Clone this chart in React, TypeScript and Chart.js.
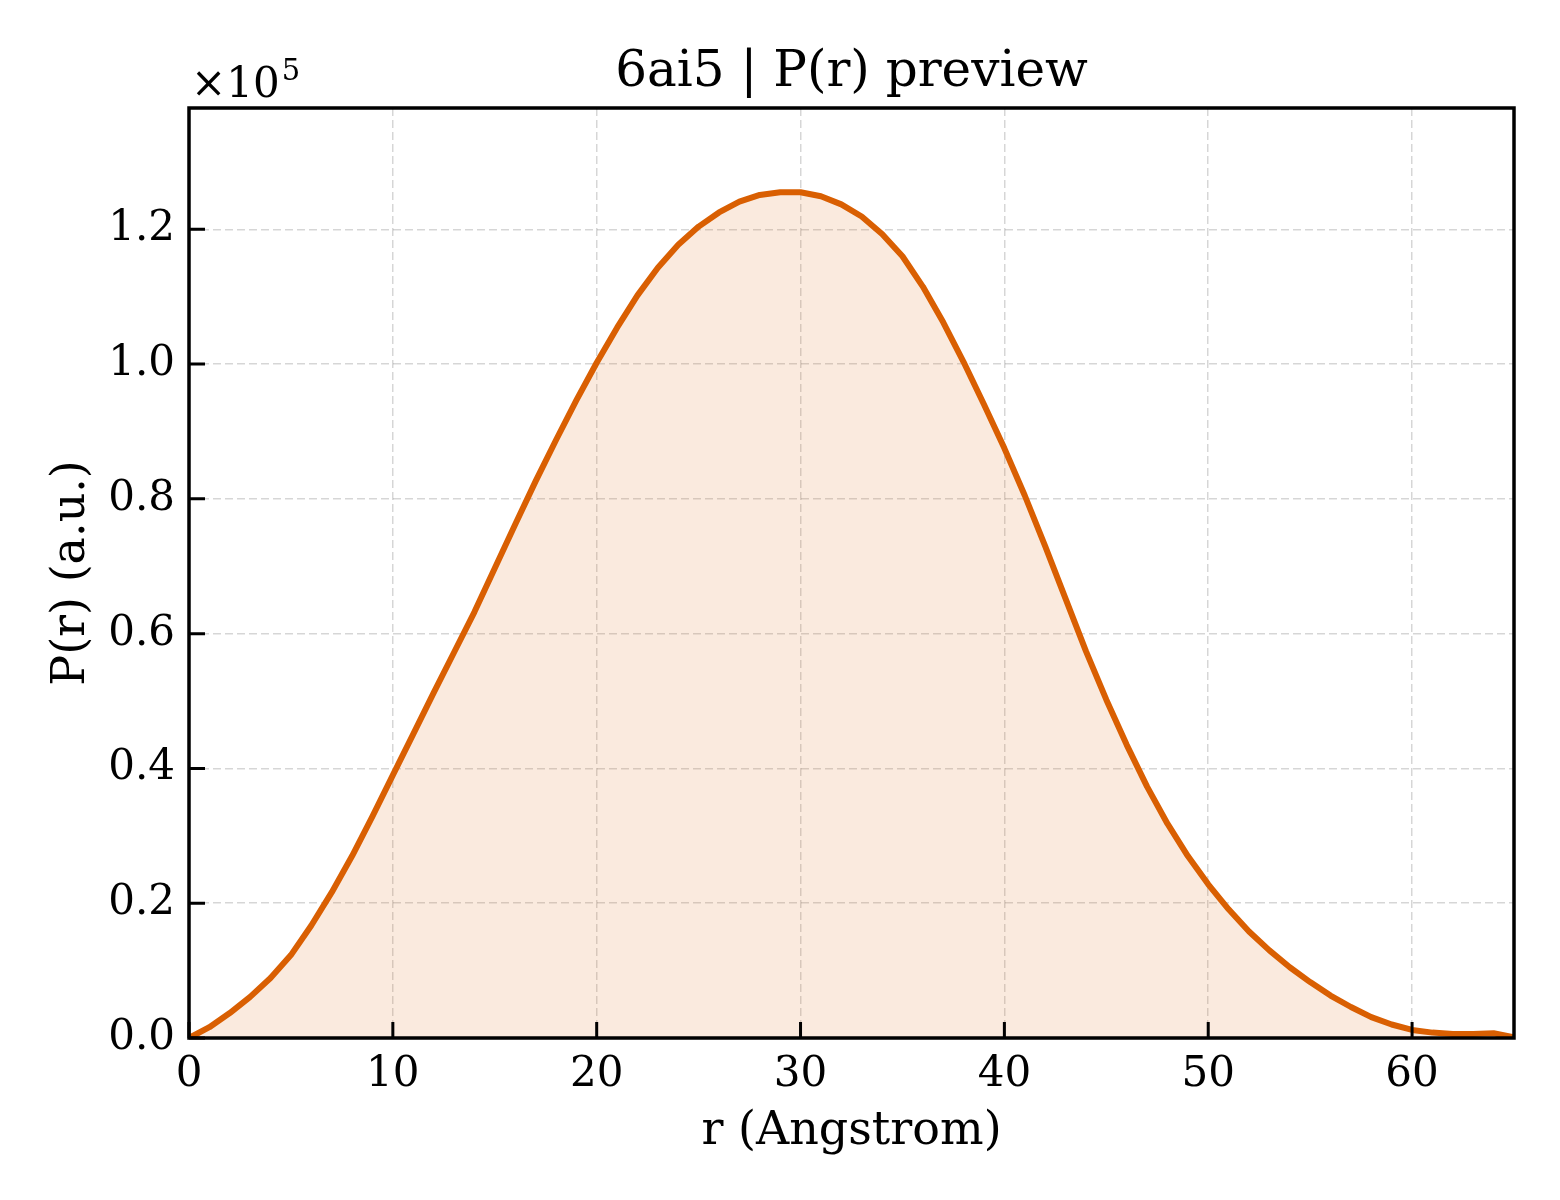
import { useEffect, useRef } from 'react';
import { Chart, registerables } from 'chart.js';

Chart.register(...registerables);

// r in Angstrom, P(r) in arbitrary units
const rValues = [
  0, 1, 2, 3, 4, 5, 6, 7, 8, 9, 10, 11, 12, 13, 14, 15, 16, 17, 18, 19, 20, 21,
  22, 23, 24, 25, 26, 27, 28, 29, 30, 31, 32, 33, 34, 35, 36, 37, 38, 39, 40,
  41, 42, 43, 44, 45, 46, 47, 48, 49, 50, 51, 52, 53, 54, 55, 56, 57, 58, 59,
  60, 61, 62, 63, 64, 65,
];

const prValues = [
  0, 1600, 3700, 6100, 8900, 12300, 16700, 21600, 27000, 32900, 39000, 45100,
  51200, 57200, 63200, 69700, 76200, 82600, 88700, 94600, 100200, 105400,
  110200, 114300, 117700, 120400, 122500, 124100, 125100, 125500, 125500,
  124900, 123700, 121900, 119300, 116000, 111500, 106200, 100300, 94000, 87500,
  80500, 73000, 65200, 57400, 50200, 43500, 37300, 31800, 27000, 22800, 19100,
  15800, 13000, 10500, 8300, 6300, 4600, 3100, 2000, 1200, 800, 600, 600, 700,
  100,
];

const xTickValues = [0, 10, 20, 30, 40, 50, 60];
const yTickValues = [0, 20000, 40000, 60000, 80000, 100000, 120000];

const titleText = '6ai5 | P(r) preview';
const xLabel = 'r (Angstrom)';
const yLabel = 'P(r) (a.u.)';

const FONT = "'DejaVu Serif', serif";
const LINE = '#d95f02';

const decorPlugin = {
  id: 'decor',
  afterDraw(chart: Chart) {
    const { ctx, chartArea: a } = chart;
    const xs = chart.scales.x;
    const ys = chart.scales.y;
    ctx.save();

    // inward ticks on bottom and left
    ctx.strokeStyle = '#000';
    ctx.lineWidth = 3;
    ctx.beginPath();
    xs.ticks.forEach((t) => {
      const px = xs.getPixelForValue(t.value);
      ctx.moveTo(px, a.bottom);
      ctx.lineTo(px, a.bottom - 16);
    });
    ys.ticks.forEach((t) => {
      const py = ys.getPixelForValue(t.value);
      ctx.moveTo(a.left, py);
      ctx.lineTo(a.left + 16, py);
    });
    ctx.stroke();

    // frame
    ctx.lineWidth = 3.5;
    ctx.strokeRect(a.left, a.top, a.right - a.left, a.bottom - a.top);

    ctx.fillStyle = '#000';
    const cx = (a.left + a.right) / 2;

    // title
    ctx.font = `50px ${FONT}`;
    ctx.textAlign = 'center';
    ctx.textBaseline = 'alphabetic';
    ctx.fillText(titleText, cx, 86);

    // x label
    ctx.font = `46px ${FONT}`;
    ctx.fillText(xLabel, cx, 1144);

    // y label
    ctx.save();
    ctx.translate(84, (a.top + a.bottom) / 2);
    ctx.rotate(-Math.PI / 2);
    ctx.fillText(yLabel, 0, 0);
    ctx.restore();

    // offset text x10^5
    ctx.textAlign = 'left';
    ctx.font = `42px ${FONT}`;
    ctx.fillText('\u00d710', a.left + 2, 97);
    const w = ctx.measureText('\u00d710').width;
    ctx.font = `29px ${FONT}`;
    ctx.fillText('5', a.left + 4 + w, 80);

    ctx.restore();
  },
};

export default function App() {
  const chartRef = useRef<HTMLCanvasElement>(null);
  const chartInstance = useRef<Chart | null>(null);

  useEffect(() => {
    document.body.style.margin = '0';
    if (!chartRef.current) return;
    if (chartInstance.current) chartInstance.current.destroy();
    const ctx = chartRef.current.getContext('2d');
    if (!ctx) return;

    chartInstance.current = new Chart(ctx, {
      type: 'line',
      data: {
        datasets: [
          {
            data: rValues.map((r, i) => ({ x: r, y: prValues[i] })),
            borderColor: LINE,
            borderWidth: 6,
            backgroundColor: 'rgba(217, 95, 2, 0.13)',
            fill: 'origin',
            pointRadius: 0,
            tension: 0,
            borderJoinStyle: 'round',
          },
        ],
      },
      options: {
        responsive: true,
        maintainAspectRatio: false,
        animation: false,
        layout: { padding: { left: 0, right: 46, top: 108, bottom: 0 } },
        plugins: {
          legend: { display: false },
          title: { display: false },
          tooltip: { enabled: false },
        },
        scales: {
          x: {
            type: 'linear',
            min: 0,
            max: 65,
            afterBuildTicks: (scale) => {
              scale.ticks = xTickValues.map((v) => ({ value: v }));
            },
            afterFit: (scale) => {
              scale.height = 162;
            },
            ticks: {
              color: '#000',
              font: { family: FONT, size: 42 },
              padding: 12,
              maxRotation: 0,
              autoSkip: false,
            },
            grid: {
              color: 'rgba(0,0,0,0.16)',
              lineWidth: 1.5,
              drawTicks: false,
              tickLength: 0,
            },
            border: { display: false, dash: [8, 4] },
          },
          y: {
            type: 'linear',
            min: 0,
            max: 138000,
            afterBuildTicks: (scale) => {
              scale.ticks = yTickValues.map((v) => ({ value: v }));
            },
            afterFit: (scale) => {
              scale.width = 189;
            },
            ticks: {
              color: '#000',
              font: { family: FONT, size: 42 },
              padding: 14,
              autoSkip: false,
              callback: (v) => (Number(v) / 1e5).toFixed(1),
            },
            grid: {
              color: 'rgba(0,0,0,0.16)',
              lineWidth: 1.5,
              drawTicks: false,
              tickLength: 0,
            },
            border: { display: false, dash: [8, 4] },
          },
        },
      },
      plugins: [decorPlugin],
    });

    return () => {
      if (chartInstance.current) {
        chartInstance.current.destroy();
        chartInstance.current = null;
      }
    };
  }, []);

  return (
    <div style={{ width: 1560, height: 1200, position: 'relative', background: '#fff' }}>
      <canvas ref={chartRef}></canvas>
    </div>
  );
}
